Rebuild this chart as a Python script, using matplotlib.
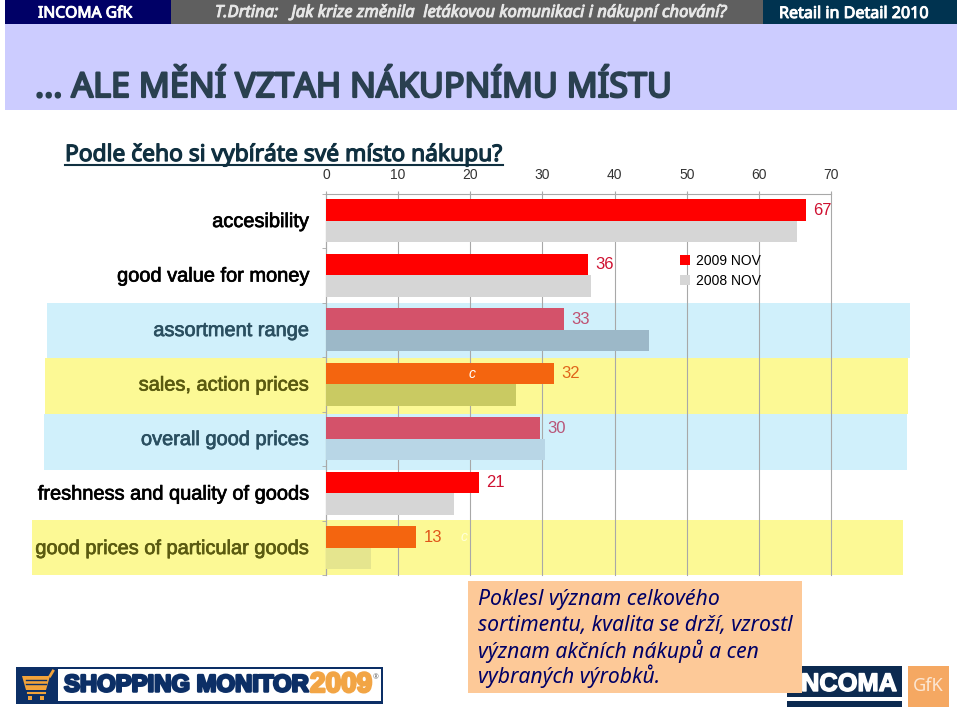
import matplotlib
matplotlib.use("Agg")
import matplotlib.pyplot as plt
import matplotlib.patheffects as pe
from matplotlib.patches import Rectangle, Polygon, Patch
from matplotlib.lines import Line2D
from matplotlib.transforms import ScaledTranslation

categories = ["accesibility", "good value for money", "assortment range",
              "sales, action prices", "overall good prices",
              "freshness and quality of goods", "good prices of particular goods"]
series_names = ["2009 NOV", "2008 NOV"]
values_2009 = [66.5, 36.3, 33.0, 31.6, 29.7, 21.2, 12.5]
values_2008 = [65.3, 36.8, 44.8, 26.4, 30.4, 17.7, 6.2]
value_labels = ["67", "36", "33", "32", "30", "21", "13"]
colors_2009 = ["#FF0000", "#FF0000", "#D4526A", "#F4650F", "#D4526A", "#FF0000", "#F4650F"]
colors_2008 = ["#D6D6D6", "#D6D6D6", "#9CB8C8", "#C9CA62", "#B8D6E6", "#D6D6D6", "#E5E58E"]
label_colors = ["#000000", "#000000", "#2A4F60", "#5A5A10", "#2A4F60", "#000000", "#5A5A10"]
value_colors = ["#CF1030", "#CF1030", "#BF5070", "#E0651A", "#B85578", "#CF1030", "#E0551A"]
x_ticks = [0, 10, 20, 30, 40, 50, 60, 70]

SANS = "Noto Sans"
ARIAL = "Liberation Sans"

fig = plt.figure(figsize=(9.6, 7.11), dpi=100, facecolor="white")
W, H = 960, 711


def overlay(z):
    a = fig.add_axes([0, 0, 1, 1], zorder=z)
    a.set_xlim(0, W)
    a.set_ylim(H, 0)
    a.axis("off")
    return a


bg = overlay(0)
top = overlay(3)


def box(a, x0, y0, x1, y1, c, z=1):
    a.add_patch(Rectangle((x0, y0), x1 - x0, y1 - y0, fc=c, ec="none", zorder=z))


def fit(a, s, x0, x1, y, heavy=0, **kw):
    """Text whose left and right edges land on x0 and x1; heavy thickens the strokes."""
    t = a.text(x0, y, s, ha="left", va="center", **kw)
    r = fig.canvas.get_renderer()
    t.set_fontsize(t.get_fontsize() * (x1 - x0) / t.get_window_extent(r).width)
    if heavy:
        t.set_path_effects([pe.withStroke(linewidth=heavy, foreground=kw["color"])])
    return t


# header
box(bg, 5, 0, 171, 24, "#000066")
box(bg, 171, 0, 763, 24, "#5F5F5F")
box(bg, 763, 0, 957, 24, "#003350")
box(bg, 5, 24, 957, 110, "#CCCCFF")
fit(bg, "INCOMA GfK", 38, 132, 13.5, heavy=0.7, family=SANS, color="white", fontsize=11, zorder=2)
fit(bg, "T.Drtina:   Jak krize změnila  letákovou komunikaci i nákupní chování?", 215, 728, 13,
    heavy=0.7, family=SANS, style="italic", color="#E6E6E6", fontsize=11, zorder=2)
fit(bg, "Retail in Detail 2010", 779, 929, 14, heavy=0.7, family=SANS, color="white", fontsize=11, zorder=2)
fit(bg, "... ALE MĚNÍ VZTAH NÁKUPNÍMU MÍSTU", 35, 672, 88, heavy=1.6, family=SANS,
    color="#2A4050", fontsize=23, zorder=2)
fit(bg, "Podle čeho si vybíráte své místo nákupu?", 65, 503, 155, heavy=0.9, family=SANS,
    color="#103040", fontsize=15, zorder=2)
bg.add_line(Line2D([65, 503], [165, 165], color="#103040", lw=1.5, zorder=2))

# highlight bands behind the chart
box(bg, 47, 303, 910, 358, "#D0F0FB")
box(bg, 45, 358, 908, 414, "#FCF995")
box(bg, 44, 414, 907, 470, "#D0F0FB")
box(bg, 32, 520, 903, 575, "#FCF995")

# chart
ax = fig.add_axes([326 / W, 1 - 575 / H, (831 - 326) / W, (575 - 193.5) / H], zorder=1)
ax.patch.set_alpha(0)
n = len(categories)
pos = list(range(n))
h = 0.39
ax.barh([p - h / 2 for p in pos], values_2009, height=h, color=colors_2009, zorder=3, label=series_names[0])
ax.barh([p + h / 2 for p in pos], values_2008, height=h, color=colors_2008, zorder=3, label=series_names[1])
ax.set_xlim(0, 70)
ax.set_ylim(n - 0.5, -0.5)
ax.xaxis.tick_top()
ax.set_xticks(x_ticks)
ax.set_xticklabels([str(v) for v in x_ticks], fontsize=10, family=ARIAL, color="#333333")
ax.tick_params(axis="x", length=2.5, color="#A8A8A8", pad=5.8)
ax.xaxis.grid(True, color="#A8A8A8", lw=0.8, zorder=2, clip_on=False)
ax.set_yticks(pos)
ax.set_yticklabels(categories, fontsize=14.4, family=ARIAL)
ax.tick_params(axis="y", length=0, pad=12)
shift = ScaledTranslation(0, 1.2 / 100, fig.dpi_scale_trans)
for lab, c in zip(ax.get_yticklabels(), label_colors):
    lab.set_color(c)
    lab.set_path_effects([pe.withStroke(linewidth=0.5, foreground=c)])
    lab.set_transform(lab.get_transform() + shift)
ax.set_yticks([p - 0.5 for p in range(n + 1)], minor=True)
ax.tick_params(axis="y", which="minor", length=3, color="#A8A8A8")
for s in ("right", "bottom"):
    ax.spines[s].set_visible(False)
for s in ("left", "top"):
    ax.spines[s].set_color("#A8A8A8")

for p, v, t, c in zip(pos, values_2009, value_labels, value_colors):
    ax.text(v + 1.0, p - h / 2, t, ha="left", va="center", fontsize=12, family=ARIAL, color=c, zorder=4)

ax.text(20.2, 3 - h / 2, "c", color="white", style="italic", fontsize=10, family=ARIAL, ha="center", va="center", zorder=4)
ax.text(19.2, 6 - h / 2, "c", color="#FFFFD8", style="italic", fontsize=10, family=ARIAL, ha="center", va="center", zorder=4)

leg = ax.legend(handles=[Patch(fc=colors_2009[0], label=series_names[0]),
                         Patch(fc=colors_2008[0], label=series_names[1])],
                loc="upper left", bbox_to_anchor=((680 - 326) / 505, 1 - (254 - 193.5) / 381.5),
                frameon=False, borderpad=0, borderaxespad=0, handlelength=0.72, handleheight=0.72,
                handletextpad=0.45, labelspacing=0.4, prop={"family": ARIAL, "size": 10})

# call-out box
box(top, 468, 581, 802, 693, "#FDC998", z=5)
for y, s, x1 in [(600, "Poklesl význam celkového", 720),
                 (626, "sortimentu, kvalita se drží, vzrostl", 793),
                 (651, "význam akčních nákupů a cen", 758),
                 (676, "vybraných výrobků.", 660)]:
    fit(top, s, 478, x1, y, family=SANS, style="italic", color="#000066", fontsize=14, zorder=6)

# Shopping Monitor logo
box(top, 16, 666.5, 383, 703.5, "#0C2F66")
box(top, 58, 669, 381, 701, "white", z=2)
top.add_patch(Polygon([(22, 676), (50, 676), (46, 690), (26, 690)], closed=True, fc="#F2A33A", ec="none", zorder=3))
top.add_line(Line2D([50, 53], [676, 671], color="#F2A33A", lw=2, zorder=3))
for y in (680, 684):
    top.add_line(Line2D([26, 46], [y, y], color="#0C2F66", lw=1, zorder=4))
top.add_line(Line2D([28, 45], [693, 693], color="#F2A33A", lw=1.5, zorder=3))
for x in (30, 42):
    top.add_patch(Rectangle((x - 2, 696), 4, 4, fc="#F2A33A", ec="none", zorder=3))
fit(top, "SHOPPING MONITOR", 64, 308, 685, heavy=1.8, family=ARIAL, weight="bold", color="#0C2F66", fontsize=18, zorder=3)
fit(top, "2009", 310, 372, 685, heavy=1.8, family=ARIAL, weight="bold", color="#F2A545", fontsize=18, zorder=3)
top.text(376, 678, "®", fontsize=5, color="#666666", ha="center", va="center", family=SANS, zorder=3)

# INCOMA / GfK logo
box(top, 787, 666, 902, 707, "#0C2A50")
box(top, 787, 697, 902, 701, "white", z=2)
fit(top, "INCOMA", 794, 897, 684, heavy=1.0, family=ARIAL, weight="bold", color="white", fontsize=16, zorder=3)
box(top, 908, 666, 949, 707, "#F5A862")
fit(top, "GfK", 913, 944, 686, family=SANS, color="#FCE6D2", fontsize=13, zorder=3)

fig.savefig("out.png", dpi=100)
